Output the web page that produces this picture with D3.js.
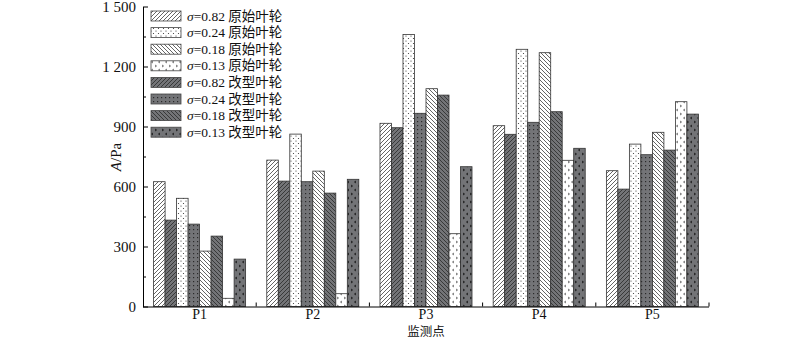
<!DOCTYPE html>
<html><head><meta charset="utf-8">
<script src="https://cdn.jsdelivr.net/npm/d3@7"></script>
<style>body{margin:0;background:#fff}</style>
</head><body>
<svg id="c" width="800" height="340"></svg>
<script>
const categories = ["P1","P2","P3","P4","P5"];
const seriesKeys = ["o082","m082","o024","m024","o018","m018","o013","m013"];
const legendOrder = ["o082","o024","o018","o013","m082","m024","m018","m013"];
const seriesSigma = {o082:"0.82",o024:"0.24",o018:"0.18",o013:"0.13",m082:"0.82",m024:"0.24",m018:"0.18",m013:"0.13"};
const seriesType = {o082:"原始叶轮",o024:"原始叶轮",o018:"原始叶轮",o013:"原始叶轮",m082:"改型叶轮",m024:"改型叶轮",m018:"改型叶轮",m013:"改型叶轮"};
// values per series across P1..P5
const o082 = [624, 732, 916, 904, 679];
const m082 = [432, 627, 894, 861, 587];
const o024 = [541, 862, 1360, 1286, 812];
const m024 = [412, 624, 966, 921, 759];
const o018 = [277, 677, 1089, 1269, 871];
const m018 = [352, 567, 1057, 974, 782];
const o013 = [41, 64, 364, 731, 1024];
const m013 = [237, 636, 699, 791, 962];
const yTicks = [0, 300, 600, 900, 1200, 1500];
const yMinor = [150, 450, 750, 1050, 1350];
const values = {o082, m082, o024, m024, o018, m018, o013, m013};

const svg = d3.select("#c");
const L = 143, R = 709, T = 6.5, B = 306.5;
const x0 = d3.scaleBand().domain(categories).range([L, R]).padding(0);
const x1 = d3.scaleBand().domain(seriesKeys).range([0, x0.bandwidth()]).paddingInner(0).paddingOuter(0.92);
const y = d3.scaleLinear().domain([0, 1500]).range([B, T]);

// patterns
const defs = svg.append("defs");
const GRAY = "#737477", DK = "#2a2a2a";
function pat(id, w, h, bg, draw) {
  const p = defs.append("pattern").attr("id", id).attr("patternUnits", "userSpaceOnUse").attr("width", w).attr("height", h);
  p.append("rect").attr("width", w).attr("height", h).attr("fill", bg);
  draw(p);
}
pat("p_o082", 4, 4, "#fff", p => { p.append("path").attr("d","M-1,1 l2,-2 M0,4 l4,-4 M3,5 l2,-2").attr("stroke","#222").attr("stroke-width",0.7); });
pat("p_m082", 4, 4, GRAY, p => { p.append("path").attr("d","M-1,1 l2,-2 M0,4 l4,-4 M3,5 l2,-2").attr("stroke",DK).attr("stroke-width",0.8); });
pat("p_o018", 4, 4, "#fff", p => { p.append("path").attr("d","M-1,3 l2,2 M0,0 l4,4 M3,-1 l2,2").attr("stroke","#222").attr("stroke-width",0.7); });
pat("p_m018", 4, 4, GRAY, p => { p.append("path").attr("d","M-1,3 l2,2 M0,0 l4,4 M3,-1 l2,2").attr("stroke",DK).attr("stroke-width",0.8); });
pat("p_o024", 5, 5, "#fff", p => {
  p.append("circle").attr("cx",1).attr("cy",1).attr("r",0.6).attr("fill","#333");
  p.append("circle").attr("cx",3.5).attr("cy",3.5).attr("r",0.6).attr("fill","#333");
});
pat("p_m024", 4, 4, GRAY, p => {
  p.append("rect").attr("x",1).attr("y",1).attr("width",1.2).attr("height",1.2).attr("fill",DK);
});
pat("p_o013", 7, 8, "#fff", p => {
  p.append("path").attr("d","M1,1 l1.5,1 l-1.5,1 M6,5 l-1.5,1 l1.5,1").attr("stroke","#333").attr("stroke-width",0.7).attr("fill","none");
});
pat("p_m013", 7, 8, GRAY, p => {
  p.append("path").attr("d","M1,1 l1.5,1 l-1.5,1 M6,5 l-1.5,1 l1.5,1").attr("stroke","#111").attr("stroke-width",0.9).attr("fill","none");
});

// bars
const g = svg.append("g");
categories.forEach((c, ci) => {
  seriesKeys.forEach(k => {
    g.append("rect")
      .attr("x", x0(c) + x1(k))
      .attr("y", y(values[k][ci]))
      .attr("width", x1.bandwidth())
      .attr("height", B - y(values[k][ci]))
      .attr("fill", `url(#p_${k})`)
      .attr("stroke", "#333")
      .attr("stroke-width", 0.8);
  });
});

// y axis
const fmt = d => d >= 1000 ? String(d).replace(/(\d)(\d{3})$/, "$1 $2") : String(d);
svg.append("g").attr("transform", `translate(${L},0)`)
  .call(d3.axisLeft(y).tickValues(yTicks).tickSizeInner(-5).tickSizeOuter(0).tickPadding(7).tickFormat(fmt));
svg.append("g").attr("transform", `translate(${L},0)`)
  .call(d3.axisLeft(y).tickValues(yMinor).tickSizeInner(-3).tickSizeOuter(0).tickFormat(""))
  .select(".domain").remove();

// x axis
const xa = svg.append("g").attr("transform", `translate(0,${B})`)
  .call(d3.axisBottom(x0).tickSize(0).tickPadding(3));
xa.select(".domain").attr("d", `M${L},0.5H${R}`);
xa.selectAll(".bt").data(categories).enter().append("line").attr("class","bt")
  .attr("x1", d => x0(d) + x0.bandwidth()).attr("x2", d => x0(d) + x0.bandwidth())
  .attr("y1", 0).attr("y2", -4).attr("stroke", "#000");

svg.selectAll(".tick text").attr("font-family", "Liberation Serif").attr("font-size", 15).attr("fill", "#111");
xa.selectAll(".tick text").attr("font-size", 14);
svg.selectAll(".domain, .tick line").attr("stroke", "#000").attr("stroke-width", 1);

// axis titles
const yl = svg.append("text").attr("transform", "translate(121,157) rotate(-90)")
  .attr("text-anchor", "middle").attr("font-family", "Liberation Serif").attr("font-size", 15).attr("fill", "#111");
yl.append("tspan").attr("font-style", "italic").text("A");
yl.append("tspan").text("/Pa");
svg.append("text").attr("x", (L + R) / 2).attr("y", 336).attr("text-anchor", "middle")
  .attr("font-family", "Noto Sans CJK SC").attr("font-size", 12.5).attr("fill", "#111").text("监测点");

// legend
const lg = svg.append("g");
legendOrder.forEach((k, i) => {
  const cy = 16 + i * 16.6;
  lg.append("rect").attr("x", 151).attr("y", cy - 5).attr("width", 30).attr("height", 10)
    .attr("fill", `url(#p_${k})`).attr("stroke", "#444").attr("stroke-width", 0.8);
  const t = lg.append("text").attr("x", 187).attr("y", cy + 4.5).attr("font-size", 13.5).attr("fill", "#111")
    .attr("font-family", "'Liberation Serif', 'Noto Sans CJK SC'");
  t.append("tspan").attr("font-style", "italic").text("σ");
  t.append("tspan").text("=" + seriesSigma[k] + " " + seriesType[k]);
});
</script>
</body></html>
